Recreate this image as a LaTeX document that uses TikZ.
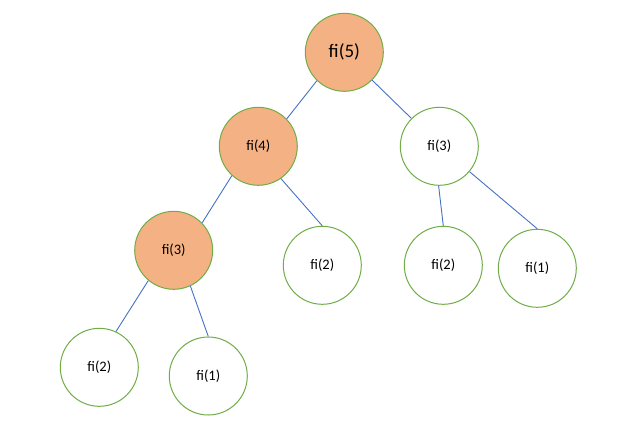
\documentclass[tikz,border=0pt]{standalone}
\usepackage{fontspec}
\setmainfont{Carlito}
\definecolor{nodefill}{HTML}{F4B183}
\definecolor{nodeline}{HTML}{70AD47}
\definecolor{edgeline}{HTML}{4472C4}
\begin{document}
\begin{tikzpicture}[x=1pt,y=-1pt,
  fnode/.style={circle,draw=nodeline,line width=1pt,minimum size=78pt,inner sep=0pt,font=\fontsize{14.5}{16}\selectfont},
  hot/.style={fnode,fill=nodefill},
  cold/.style={fnode,fill=white},
  edge/.style={draw=edgeline,line width=0.9pt}]
\useasboundingbox (0,0) rectangle (629,437);
\node[hot,font=\fontsize{19}{21}\selectfont] (n5) at (344.3,52.3) {fi(5)};
\node[hot] (n4) at (258.3,146.3) {fi(4)};
\node[cold] (n3r) at (439.3,146.3) {fi(3)};
\node[hot] (n3l) at (173.7,250.3) {fi(3)};
\node[cold] (n2m) at (322.3,265.3) {fi(2)};
\node[cold] (n2r) at (443.3,265.3) {fi(2)};
\node[cold] (n1r) at (537.3,268.3) {fi(1)};
\node[cold] (n2b) at (99.3,367.3) {fi(2)};
\node[cold] (n1b) at (208.3,376) {fi(1)};
\draw[edge] (n5.226) -- (n4.44);
\draw[edge] (n5.315) -- (n3r.135);
\draw[edge] (n4.228) -- (n3l.44);
\draw[edge] (n4.305) -- (n2m.90);
\draw[edge] (n3r.269) -- (n2r.90);
\draw[edge] (n3r.320) -- (n1r.90);
\draw[edge] (n3l.230) -- (n2b.65);
\draw[edge] (n3l.295) -- (n1b.90);
\end{tikzpicture}
\end{document}
